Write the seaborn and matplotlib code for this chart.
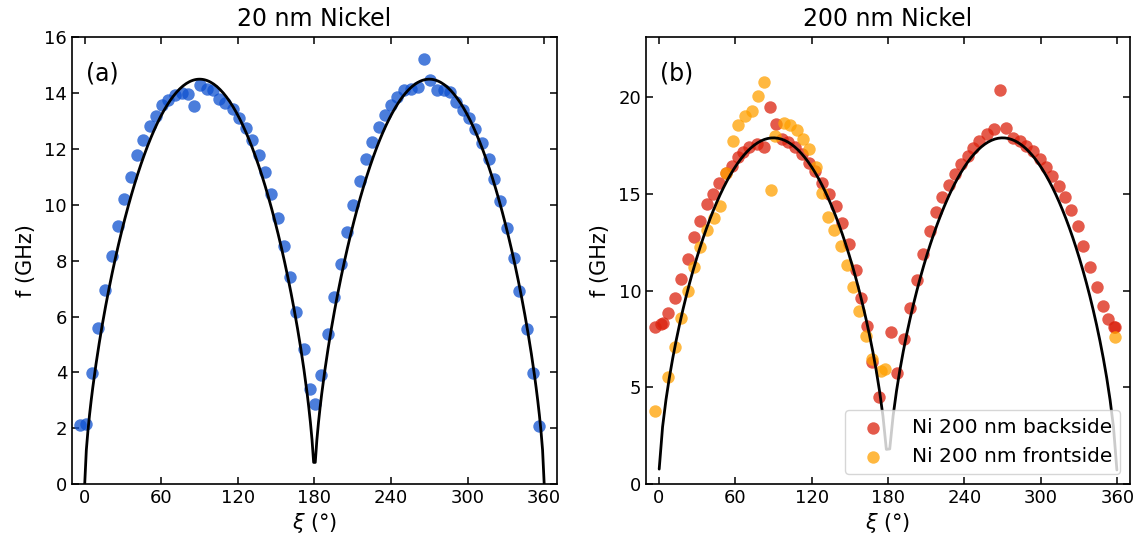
import numpy as np
import pandas as pd
import matplotlib
matplotlib.use("Agg")
import matplotlib.pyplot as plt
import seaborn as sns

# ---------------- data ----------------
# 20 nm Nickel (panel a)
xi_20 = [-3.9, 0.8, 5.8, 10.7, 15.7, 21.0, 25.7, 30.9, 35.9, 40.9, 45.9, 50.8, 55.8,
         60.5, 65.5, 70.8, 76.0, 81.2, 85.9, 90.4, 95.7, 100.9, 105.1, 110.0, 115.8,
         121.1, 126.3, 131.0, 136.3, 141.3, 146.2, 151.2, 155.9, 161.2, 165.9, 171.6,
         176.9, 180.5, 185.5, 190.5, 195.2, 200.5, 205.7, 210.4, 215.6, 220.6, 225.4,
         230.6, 235.3, 239.8, 245.0, 249.8, 255.5, 261.2, 266.0, 270.7, 275.7, 281.7,
         286.2, 290.9, 296.6, 301.3, 306.0, 311.3, 316.6, 321.0, 325.7, 331.0, 336.2,
         340.6, 346.5, 351.2, 355.9]
f_20 = [2.11, 2.15, 3.99, 5.60, 6.95, 8.15, 9.24, 10.22, 11.00, 11.78, 12.32, 12.82, 13.18,
        13.57, 13.74, 13.92, 14.00, 13.97, 13.54, 14.28, 14.16, 14.10, 13.78, 13.66, 13.44,
        13.10, 12.75, 12.32, 11.78, 11.16, 10.38, 9.52, 8.54, 7.43, 6.17, 4.82,
        3.39, 2.85, 3.92, 5.36, 6.71, 7.88, 9.02, 9.98, 10.86, 11.64, 12.26,
        12.80, 13.23, 13.56, 13.86, 14.13, 14.16, 14.22, 15.24, 14.46, 14.10, 14.10,
        14.04, 13.70, 13.40, 13.10, 12.72, 12.22, 11.64, 10.94, 10.12, 9.18, 8.08,
        6.92, 5.54, 3.97, 2.09]

# 200 nm Nickel backside (panel b)
xi_back = [-3.2, 1.5, 3.5, 7.3, 12.6, 17.3, 22.6, 27.6, 32.3, 37.5, 42.8, 47.6, 52.5,
           57.3, 62.0, 66.5, 71.2, 77.0, 82.3, 87.5, 92.0, 96.7, 101.4, 107.2, 112.5,
           118.3, 123.0, 127.8, 133.5, 138.8, 143.5, 149.3, 154.6, 158.5, 163.2, 167.7,
           173.0, 182.2, 187.1, 192.7, 197.4, 202.7, 207.6, 212.9, 217.7, 222.4, 227.6,
           232.3, 237.4, 242.6, 247.1, 251.8, 257.6, 262.9, 268.1, 272.9, 278.1, 283.4,
           288.6, 293.8, 299.1, 303.9, 309.1, 314.1, 318.8, 323.6, 328.9, 333.3, 338.6,
           343.8, 348.6, 353.0, 357.5, 358.5]
f_back = [8.14, 8.25, 8.35, 8.83, 9.64, 10.62, 11.66, 12.76, 13.62, 14.47, 15.02, 15.56, 16.06,
          16.45, 16.92, 17.19, 17.44, 17.58, 17.44, 19.48, 18.61, 17.84, 17.68, 17.45, 17.07,
          16.62, 16.20, 15.59, 14.99, 14.38, 13.49, 12.43, 11.06, 9.64, 8.18, 6.30,
          4.48, 7.84, 5.72, 7.52, 9.11, 10.57, 11.89, 13.10, 14.07, 14.86, 15.48,
          16.02, 16.55, 16.98, 17.35, 17.75, 18.09, 18.35, 20.37, 18.40, 17.90, 17.76,
          17.50, 17.23, 16.83, 16.40, 15.93, 15.42, 14.86, 14.16, 13.35, 12.33, 11.23,
          10.19, 9.22, 8.54, 8.14, 8.10]

# 200 nm Nickel frontside (panel b)
xi_front = [-3.0, 7.3, 12.6, 17.3, 22.6, 27.6, 32.3, 37.5, 43.4, 48.1, 52.5, 58.1, 62.5,
            67.8, 73.0, 77.8, 82.8, 88.0, 91.5, 98.0, 103.3, 108.5, 113.2, 118.3, 123.5,
            127.8, 133.0, 137.5, 142.7, 148.0, 152.7, 157.2, 162.9, 167.7, 174.3, 177.5,
            358.3]
f_front = [3.78, 5.53, 7.06, 8.58, 9.98, 11.20, 12.28, 13.13, 13.78, 14.40, 16.06, 17.76, 18.56,
           19.04, 19.30, 20.05, 20.78, 15.19, 18.00, 18.66, 18.54, 18.31, 17.84, 17.32, 16.37,
           15.07, 13.79, 13.12, 12.31, 11.32, 10.17, 8.95, 7.66, 6.47, 5.85, 5.93,
           7.59]

# fit model parameters: f = A * |sin(xi)|^p
fit_A = [14.5, 17.9]
fit_p = [0.65, 0.61]

titles = ["20 nm Nickel", "200 nm Nickel"]
panel_tags = ["(a)", "(b)"]
labels_b = ["Ni 200 nm backside", "Ni 200 nm frontside"]

# ---------------- style ----------------
sns.set_theme(style="ticks")
plt.rcParams["font.family"] = ["DejaVu Sans"]
for key in ["text.color", "axes.labelcolor", "xtick.color", "ytick.color", "axes.edgecolor"]:
    plt.rcParams[key] = "black"
plt.rcParams["axes.linewidth"] = 1.2
plt.rcParams["xtick.major.width"] = 1.1
plt.rcParams["ytick.major.width"] = 1.1

c_blue = "#0f51d0"
c_red = "#db230f"
c_orange = "#ffa000"
alpha = 0.75
msize = 80

fig = plt.figure(figsize=(11.42, 5.39), dpi=100)
ax1 = fig.add_axes([0.063, 0.102, 0.4247, 0.8288])
ax2 = fig.add_axes([0.5657, 0.102, 0.4238, 0.8288])

# fit sampling grids
grid_a = np.linspace(0, 360, 286)
grid_b = 0.33 + 2.662 * np.arange(136)

def model(x, A, p):
    return A * np.abs(np.sin(np.deg2rad(x))) ** p

# panel a
df_a = pd.DataFrame({"xi": xi_20, "f": f_20})
sns.scatterplot(data=df_a, x="xi", y="f", ax=ax1, color=c_blue, alpha=alpha,
                s=msize, linewidth=0, zorder=2)
fit_a = pd.DataFrame({"xi": grid_a, "f": model(grid_a, fit_A[0], fit_p[0])})
sns.lineplot(data=fit_a, x="xi", y="f", ax=ax1, color="black", lw=2.0,
             sort=False, estimator=None, zorder=3)

# panel b
df_back = pd.DataFrame({"xi": xi_back, "f": f_back})
df_front = pd.DataFrame({"xi": xi_front, "f": f_front})
sns.scatterplot(data=df_back, x="xi", y="f", ax=ax2, color=c_red, alpha=alpha,
                s=msize, linewidth=0, zorder=2, label=labels_b[0])
sns.scatterplot(data=df_front, x="xi", y="f", ax=ax2, color=c_orange, alpha=alpha,
                s=msize, linewidth=0, zorder=2, label=labels_b[1])
fit_b = pd.DataFrame({"xi": grid_b, "f": model(grid_b, fit_A[1], fit_p[1])})
sns.lineplot(data=fit_b, x="xi", y="f", ax=ax2, color="black", lw=2.0,
             sort=False, estimator=None, zorder=3)

for ax, title, tag in zip([ax1, ax2], titles, panel_tags):
    ax.set_xlim(-10, 370)
    ax.set_xticks(np.arange(0, 361, 60))
    ax.set_title(title, fontsize=17, pad=8)
    ax.set_xlabel(r"$\xi$ (°)", fontsize=15, labelpad=3)
    ax.set_ylabel("f (GHz)", fontsize=15, labelpad=6)
    ax.tick_params(direction="in", top=True, right=True, labelsize=13, length=5)
    ax.text(0.028, 0.92, tag, transform=ax.transAxes, fontsize=17, va="center", ha="left")

ax1.set_ylim(0, 16)
ax1.set_yticks(np.arange(0, 17, 2))
ax2.set_ylim(0, 23.1)
ax2.set_yticks([0, 5, 10, 15, 20])

leg = ax2.legend(loc="lower right", fontsize=14.5, frameon=True, handletextpad=0.9)

fig.savefig("out.png", dpi=100)
